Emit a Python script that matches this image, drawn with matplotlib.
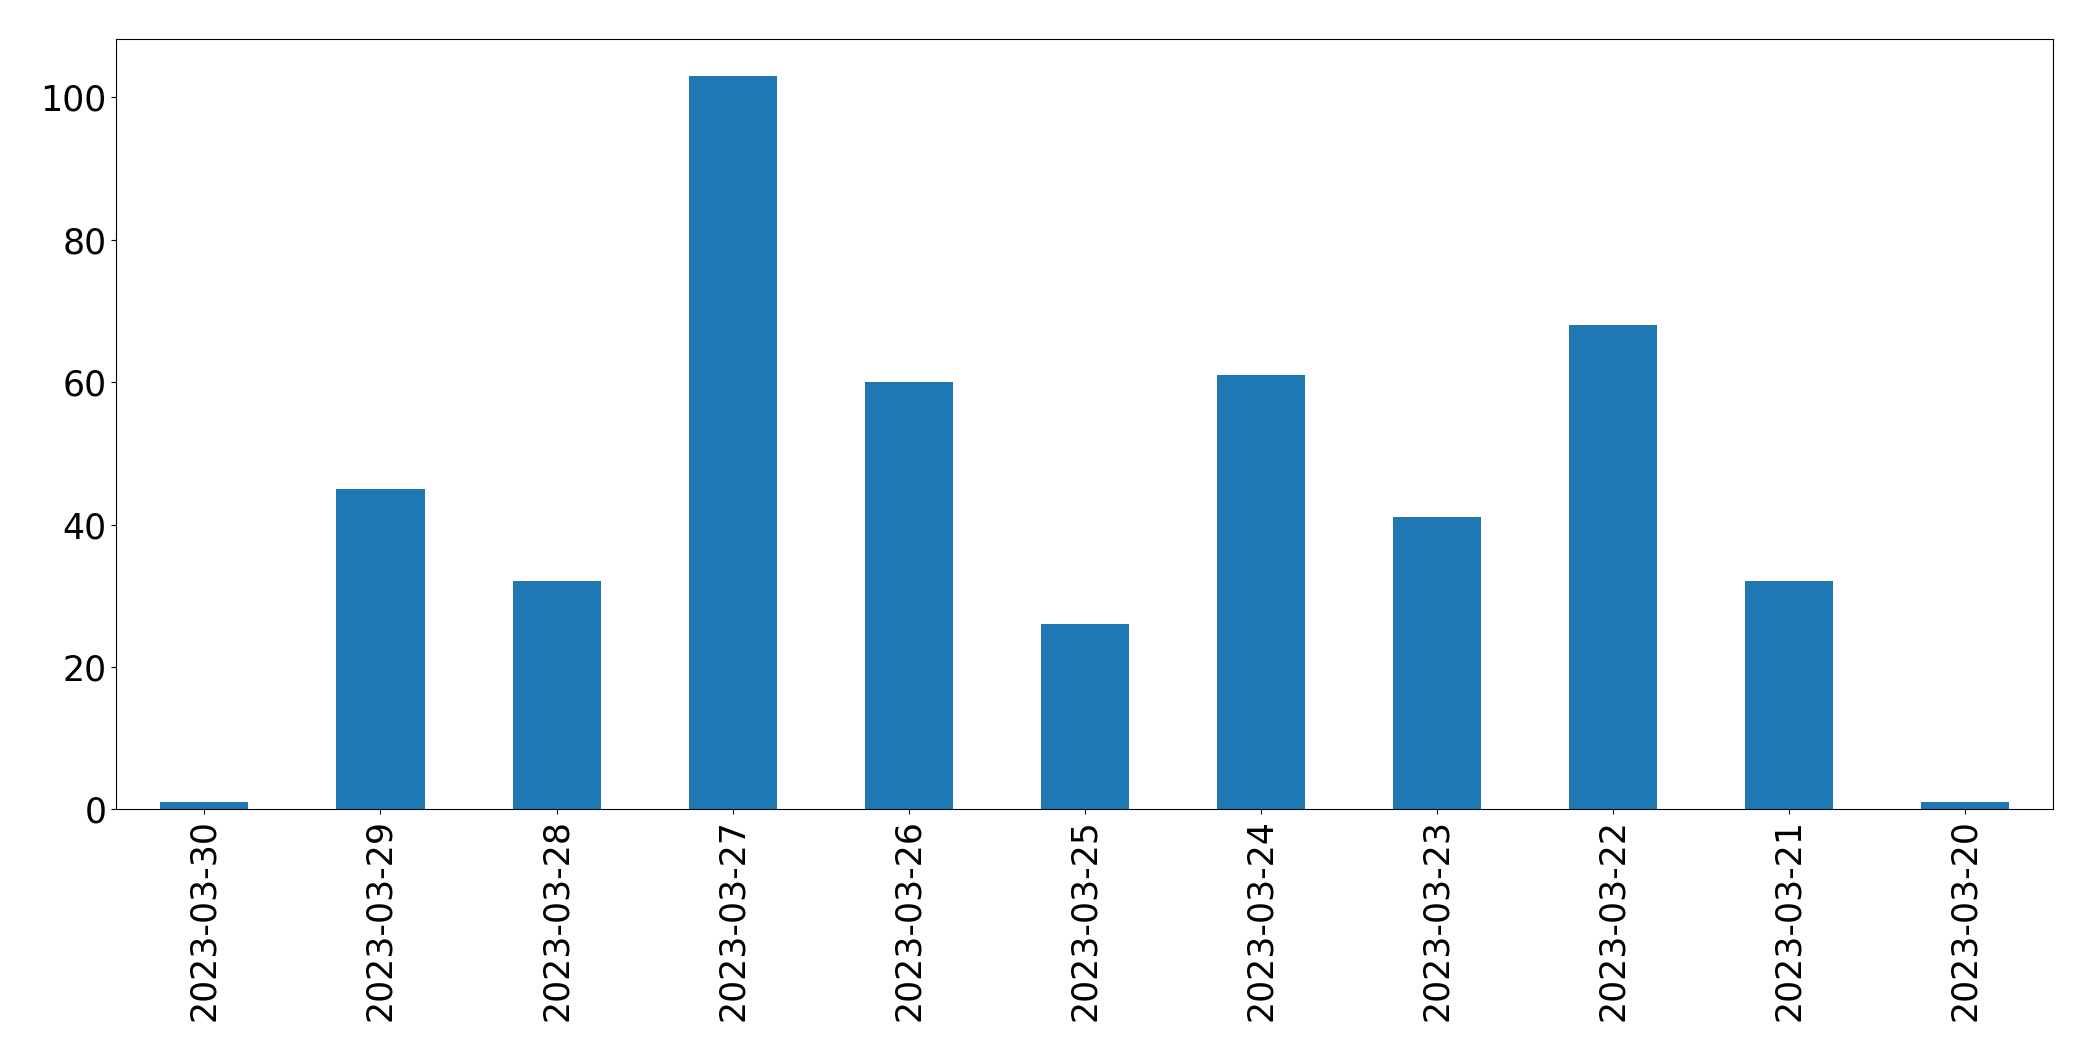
import matplotlib
matplotlib.use("Agg")
import matplotlib.pyplot as plt

# daily counts, newest first (as in the original index order)
dates = ["2023-03-30", "2023-03-29", "2023-03-28", "2023-03-27", "2023-03-26",
         "2023-03-25", "2023-03-24", "2023-03-23", "2023-03-22", "2023-03-21",
         "2023-03-20"]
counts = [1, 45, 32, 103, 60, 26, 61, 41, 68, 32, 1]

fig = plt.figure(figsize=(20.93, 10.61), dpi=100)
ax = fig.add_axes([0.0556, 0.2372, 0.9254, 0.7258])

x = list(range(len(dates)))
ax.bar(x, counts, width=0.5, color="#1f77b4")
ax.set_xlim(-0.5, len(dates) - 0.5)
ax.set_xticks(x)
ax.set_xticklabels(dates, rotation=90)
ax.tick_params(axis="both", labelsize=25)

fig.savefig("out.png", dpi=100)
